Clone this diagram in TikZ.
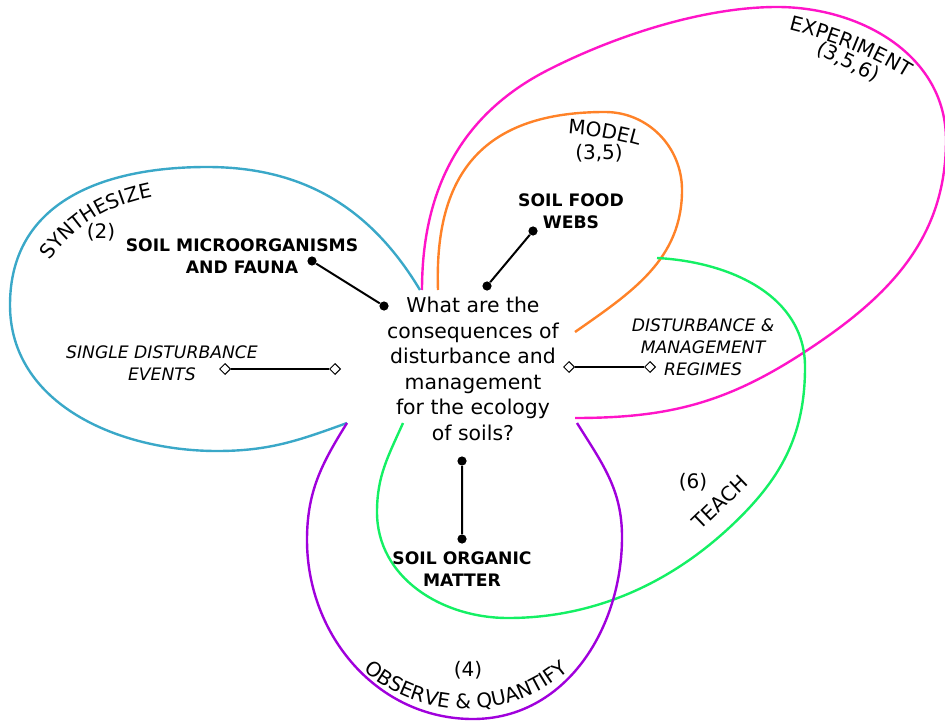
\documentclass[tikz,border=0pt]{standalone}
\usepackage{fontspec}
\setmainfont{DejaVu Sans}
\usetikzlibrary{shapes.geometric,decorations.text}

\definecolor{synblue}{RGB}{58,168,200}
\definecolor{expmag}{RGB}{255,20,200}
\definecolor{modorange}{RGB}{255,130,40}
\definecolor{teagreen}{RGB}{20,240,100}
\definecolor{obspurple}{RGB}{160,0,220}

\newcommand{\qfont}{\fontsize{10.2}{12.75}\selectfont}
\newcommand{\lfont}{\fontsize{10}{12.5}\selectfont}
\newcommand{\tfont}{\fontsize{8.6}{11}\selectfont}

\tikzset{
  petal/.style={line width=1.2pt},
  dot/.style={fill,circle,inner sep=0pt,minimum size=4.6pt},
  dmd/.style={draw,fill=white,diamond,inner sep=0pt,minimum size=5.5pt,line width=0.5pt},
  topic/.style={align=center,font=\tfont\bfseries},
  regime/.style={align=center,font=\tfont\itshape},
  curvelab/.style={decorate,decoration={text along path,text align=center,text={|\lfont|#1}}}
}

\begin{document}
\begin{tikzpicture}[x=0.5pt,y=0.5pt]
\useasboundingbox (0,0) rectangle (945,-721);

% the five loops
\draw [petal,synblue] (420,-290) to[out=121,in=0] (207,-167) to[out=180,in=90,looseness=1.1] (10,-305)
  to[out=270,in=180] (217,-451) to[out=0,in=200] (347,-423);
\draw [petal,expmag] (422,-290) to[out=90,in=207] (548,-70) to[out=27,in=180,looseness=0.8] (777,-7)
  to[out=0,in=90] (946,-140) to[out=270,in=33] (803,-353) to[out=213,in=0] (575,-418);
\draw [petal,modorange] (438,-290) to[out=92,in=180,looseness=1.25] (605,-112) to[out=0,in=90] (682,-190)
  to[out=270,in=35] (575,-332);
\draw [petal,teagreen] (657,-258) to[out=-3,in=90] (805,-367) to[out=270,in=43] (730,-527)
  to[out=223,in=0,looseness=0.9] (508,-618) to[out=180,in=270] (377,-512) to[out=90,in=246] (403,-423);
\draw [petal,obspurple] (347,-423) to[out=238,in=90] (307,-540) to[out=270,in=180] (473,-719)
  to[out=0,in=270] (622,-537) to[out=90,in=302] (577,-423);

% loop labels
\path [curvelab={SYNTHESIZE}] (35,-282) .. controls (70,-225) and (110,-200) .. (178,-193);
\node (synnum) at (101,-232) [font=\lfont] {(2)};
\path [curvelab={MODEL}] (540,-133) .. controls (580,-132) and (630,-140) .. (665,-155);
\node (modnum) at (599,-153) [font=\lfont] {(3,5)};
\path [curvelab={EXPERIMENT}] (755,-22) .. controls (820,-35) and (880,-55) .. (935,-97);
\node (expnum) at (848,-62) [font=\lfont,rotate=-26] {(3,5,6)};
\path [curvelab={OBSERVE {\&} QUANTIFY}] (466,-552) ++(215:157) arc[start angle=215,end angle=325,radius=157];
\node (obsnum) at (468,-670) [font=\lfont] {(4)};
\node (teach) at (720,-502) [font=\lfont,rotate=44] {TEACH};
\node (teanum) at (693,-482) [font=\lfont] {(6)};

% centre question
\node (question) at (473,-369) [align=center,font=\qfont] {What are the\\consequences of\\disturbance and\\management\\for the ecology\\of soils?};

% topics
\node (fauna) at (242,-256) [topic] {SOIL MICROORGANISMS\\AND FAUNA};
\node (foodweb) at (571,-211) [topic] {SOIL FOOD\\WEBS};
\node (organic) at (462,-569) [topic] {SOIL ORGANIC\\MATTER};
\node (single) at (162,-363) [regime] {SINGLE DISTURBANCE\\EVENTS};
\node (regimes) at (703,-347) [regime] {DISTURBANCE \&\\MANAGEMENT\\REGIMES};

\node (fa1) at (312,-261) [dot] {};
\node (fa2) at (384,-306) [dot] {};
\node (fw1) at (533,-231) [dot] {};
\node (fw2) at (487,-286) [dot] {};
\node (om1) at (462,-461) [dot] {};
\node (om2) at (462,-539) [dot] {};
\node (se1) at (225,-369) [dmd] {};
\node (se2) at (335,-369) [dmd] {};
\node (rg1) at (569,-367) [dmd] {};
\node (rg2) at (650,-367) [dmd] {};

\draw [line width=1pt] (fa1) to (fa2) (fw1) to (fw2) (om1) to (om2);
\draw [line width=0.8pt] (se1) to (se2) (rg1) to (rg2);

\end{tikzpicture}
\end{document}
